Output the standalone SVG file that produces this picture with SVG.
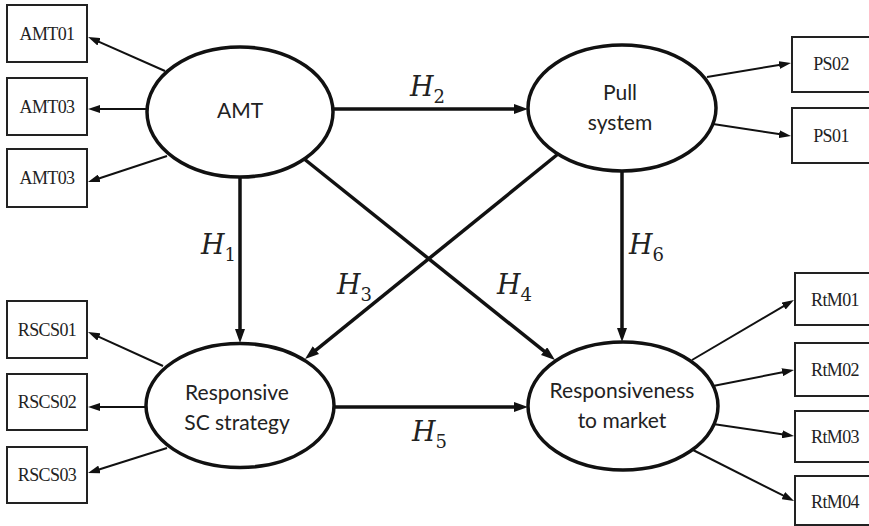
<svg xmlns="http://www.w3.org/2000/svg" width="869" height="526" viewBox="0 0 869 526">
  <style>
    .box { fill: #fff; stroke: #222; stroke-width: 2; }
    .lat { fill: #fff; stroke: #111; stroke-width: 3.5; }
    .ind { font-family: "Liberation Serif", "Times New Roman", serif; font-size: 18px; letter-spacing: -0.6px; fill: #222; text-anchor: middle; }
    .name { font-family: Lato, "Open Sans", sans-serif; font-size: 21px; fill: #222; text-anchor: middle; }
    .hyp { font-family: "DejaVu Serif", "Liberation Serif", serif; font-size: 27px; font-style: italic; fill: #222; }
    .hyp tspan { font-style: normal; font-size: 18px; }
    .path { stroke: #111; stroke-width: 3.5; fill: none; marker-end: url(#headBig); }
    .load { stroke: #111; stroke-width: 2; fill: none; marker-end: url(#headSmall); }
  </style>
  <defs>
    <marker id="headBig" markerUnits="userSpaceOnUse" markerWidth="14" markerHeight="10" refX="4" refY="5" orient="auto">
      <path d="M0,0 L14,5 L0,10 z" fill="#111"/>
    </marker>
    <marker id="headSmall" markerUnits="userSpaceOnUse" markerWidth="12" markerHeight="8" refX="3" refY="4" orient="auto">
      <path d="M0,0 L12,4 L0,8 z" fill="#111"/>
    </marker>
  </defs>
  <rect width="869" height="526" fill="#fff"/>

  <!-- connectors -->
  <g id="connectors">
    <!-- structural paths -->
    <line class="path" x1="333" y1="109" x2="518" y2="109"/>
    <line class="path" x1="334" y1="407" x2="518" y2="407"/>
    <line class="path" x1="240" y1="177" x2="240" y2="333"/>
    <line class="path" x1="622" y1="171" x2="622" y2="332"/>
    <line class="path" x1="558" y1="154" x2="312.8" y2="352.7"/>
    <line class="path" x1="303" y1="158" x2="547.2" y2="353.7"/>
    <!-- indicator loadings -->
    <line class="load" x1="165" y1="71" x2="96.3" y2="40.6"/>
    <line class="load" x1="147" y1="109" x2="97" y2="109"/>
    <line class="load" x1="167" y1="156" x2="96.5" y2="179.2"/>
    <line class="load" x1="163" y1="366" x2="96.2" y2="335.7"/>
    <line class="load" x1="146" y1="407" x2="97" y2="407"/>
    <line class="load" x1="167" y1="448" x2="96.6" y2="470.3"/>
    <line class="load" x1="707" y1="77" x2="782.1" y2="64.5"/>
    <line class="load" x1="713" y1="124" x2="782.1" y2="134.6"/>
    <line class="load" x1="692" y1="360" x2="786.2" y2="304.6"/>
    <line class="load" x1="713" y1="386" x2="785.2" y2="371.7"/>
    <line class="load" x1="713" y1="424" x2="785.1" y2="434.7"/>
    <line class="load" x1="693" y1="450" x2="786" y2="496.9"/>
    <!-- hypothesis labels -->
    <text class="hyp" x="201" y="254">H<tspan dy="7">1</tspan></text>
    <text class="hyp" x="410" y="96">H<tspan dy="7">2</tspan></text>
    <text class="hyp" x="337" y="294">H<tspan dy="7">3</tspan></text>
    <text class="hyp" x="497" y="294">H<tspan dy="7">4</tspan></text>
    <text class="hyp" x="412" y="441">H<tspan dy="7">5</tspan></text>
    <text class="hyp" x="629" y="254">H<tspan dy="7">6</tspan></text>
  </g>

  <!-- latent constructs -->
  <g id="amt">
    <ellipse class="lat" cx="240" cy="112" rx="93" ry="65"/>
    <text class="name" x="240" y="118">AMT</text>
  </g>
  <g id="pull-system">
    <ellipse class="lat" cx="622" cy="108" rx="94" ry="63"/>
    <text class="name" x="620" y="100">Pull</text>
    <text class="name" x="620" y="130">system</text>
  </g>
  <g id="responsive-sc-strategy">
    <ellipse class="lat" cx="240" cy="405.5" rx="94" ry="62"/>
    <text class="name" x="237" y="400">Responsive</text>
    <text class="name" x="237" y="430">SC strategy</text>
  </g>
  <g id="responsiveness-to-market">
    <ellipse class="lat" cx="623" cy="406" rx="95" ry="64"/>
    <text class="name" x="622" y="398">Responsiveness</text>
    <text class="name" x="622" y="428">to market</text>
  </g>

  <!-- indicators -->
  <g id="amt01"><rect class="box" x="7" y="5" width="80" height="57"/><text class="ind" x="47" y="40">AMT01</text></g>
  <g id="amt03a"><rect class="box" x="7" y="78" width="80" height="57"/><text class="ind" x="47" y="113">AMT03</text></g>
  <g id="amt03b"><rect class="box" x="7" y="149" width="80" height="58"/><text class="ind" x="47" y="184">AMT03</text></g>
  <g id="rscs01"><rect class="box" x="7" y="301" width="80" height="57"/><text class="ind" x="47" y="336">RSCS01</text></g>
  <g id="rscs02"><rect class="box" x="7" y="374" width="80" height="56"/><text class="ind" x="47" y="408">RSCS02</text></g>
  <g id="rscs03"><rect class="box" x="7" y="447" width="80" height="56"/><text class="ind" x="47" y="481">RSCS03</text></g>
  <g id="ps02"><rect class="box" x="792" y="37" width="80" height="55"/><text class="ind" x="831" y="70">PS02</text></g>
  <g id="ps01"><rect class="box" x="792" y="108" width="80" height="55"/><text class="ind" x="831" y="142">PS01</text></g>
  <g id="rtm01"><rect class="box" x="795" y="273" width="80" height="52"/><text class="ind" x="835" y="306">RtM01</text></g>
  <g id="rtm02"><rect class="box" x="795" y="343" width="80" height="53"/><text class="ind" x="835" y="376">RtM02</text></g>
  <g id="rtm03"><rect class="box" x="795" y="411" width="80" height="51"/><text class="ind" x="835" y="443">RtM03</text></g>
  <g id="rtm04"><rect class="box" x="795" y="476" width="80" height="49"/><text class="ind" x="835" y="508">RtM04</text></g>
</svg>
